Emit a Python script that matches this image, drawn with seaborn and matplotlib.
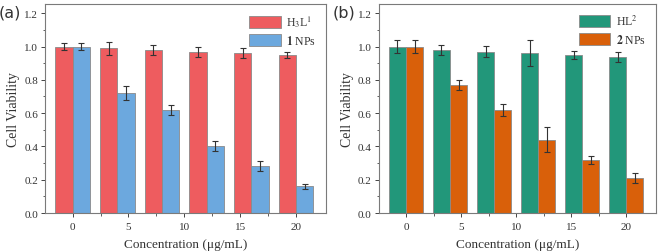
import matplotlib
matplotlib.use('Agg')
import matplotlib.pyplot as plt
import seaborn as sns
import pandas as pd
import numpy as np

# ── Data ─────────────────────────────────────────────────────────────────────
# six measured groups, but the axis only carries five concentration labels
groups = ['g1', 'g2', 'g3', 'g4', 'g5', 'g6']
tick_labels = ['0', '5', '10', '15', '20']

h3l1 = [1.00, 0.99, 0.98, 0.97, 0.96, 0.95]
h3l1_err = [0.02, 0.04, 0.03, 0.03, 0.03, 0.02]
nps1 = [1.00, 0.72, 0.62, 0.40, 0.28, 0.16]
nps1_err = [0.02, 0.04, 0.03, 0.03, 0.03, 0.015]

hl2 = [1.00, 0.98, 0.97, 0.96, 0.95, 0.94]
hl2_err = [0.04, 0.03, 0.035, 0.078, 0.025, 0.03]
nps2 = [1.00, 0.77, 0.62, 0.44, 0.32, 0.21]
nps2_err = [0.04, 0.03, 0.035, 0.075, 0.025, 0.03]

sns.set_theme(style='white')
plt.rcParams['font.family'] = ['Liberation Serif', 'DejaVu Serif']
plt.rcParams['mathtext.fontset'] = 'stix'

fig = plt.figure(figsize=(6.61, 2.53), dpi=100)
ax_a = fig.add_axes([0.068, 0.154, 0.425, 0.826])
ax_b = fig.add_axes([0.573, 0.154, 0.419, 0.826])


def panel(ax, s1, e1, s2, e2, names, colors, tag):
    df = pd.DataFrame({
        'group': groups * 2,
        'value': s1 + s2,
        'series': [names[0]] * len(groups) + [names[1]] * len(groups),
    })
    sns.barplot(data=df, x='group', y='value', hue='series', order=groups,
                hue_order=names, palette=colors, width=0.78, errorbar=None,
                edgecolor='#8a8a8a', linewidth=0.6, saturation=1, ax=ax)
    for cont, err in zip(ax.containers, [e1, e2]):
        xs = [b.get_x() + b.get_width() / 2 for b in cont]
        ys = [b.get_height() for b in cont]
        ax.errorbar(xs, ys, yerr=err, fmt='none', ecolor='#333333',
                    elinewidth=0.8, capsize=2, capthick=0.8)
    ax.set_xlim(-0.62, 5.67)
    ax.set_ylim(0, 1.255)
    major = np.linspace(0, len(groups) - 1, len(tick_labels))
    ax.set_xticks(major)
    ax.set_xticklabels(tick_labels)
    ax.set_xticks((major[:-1] + major[1:]) / 2, minor=True)
    ax.set_yticks(np.arange(0, 1.21, 0.2))
    ax.set_yticklabels([f'{v:.1f}' for v in np.arange(0, 1.21, 0.2)])
    ax.set_yticks(np.arange(0.1, 1.25, 0.2), minor=True)
    ax.tick_params(axis='both', which='major', direction='out', length=3,
                   width=0.7, colors='#444444', labelsize=8, pad=2,
                   labelcolor='#333333', bottom=True, left=True)
    ax.tick_params(axis='x', which='major', pad=3.5)
    ax.tick_params(axis='both', which='minor', direction='out', length=1.8,
                   width=0.6, colors='#444444', bottom=True, left=True)
    for sp in ax.spines.values():
        sp.set_color('#7a7a7a')
        sp.set_linewidth(0.8)
    ax.set_xlabel('Concentration (μg/mL)', fontsize=9.5, color='#333333',
                  labelpad=5)
    ax.set_ylabel('Cell Viability', fontsize=10, color='#333333', labelpad=3)
    leg = ax.legend(loc='upper right', frameon=False, fontsize=8.5,
                    handlelength=2.7, handleheight=1.2, borderaxespad=0.4,
                    labelspacing=0.4, handletextpad=0.5)
    for t in leg.get_texts():
        t.set_color('#333333')
    ax.text(-0.165, 1.0, tag, transform=ax.transAxes, fontsize=11.5,
            family='DejaVu Sans', color='#333333', va='top', ha='left')


panel(ax_a, h3l1, h3l1_err, nps1, nps1_err,
      ['H$_3$L$^1$', r'$\mathbf{1}$ NPs'], ['#EE5C5F', '#6CA8DE'], '(a)')
panel(ax_b, hl2, hl2_err, nps2, nps2_err,
      ['HL$^2$', r'$\mathbf{2}$ NPs'], ['#22977A', '#D9600A'], '(b)')

fig.savefig('out.png', dpi=100)
